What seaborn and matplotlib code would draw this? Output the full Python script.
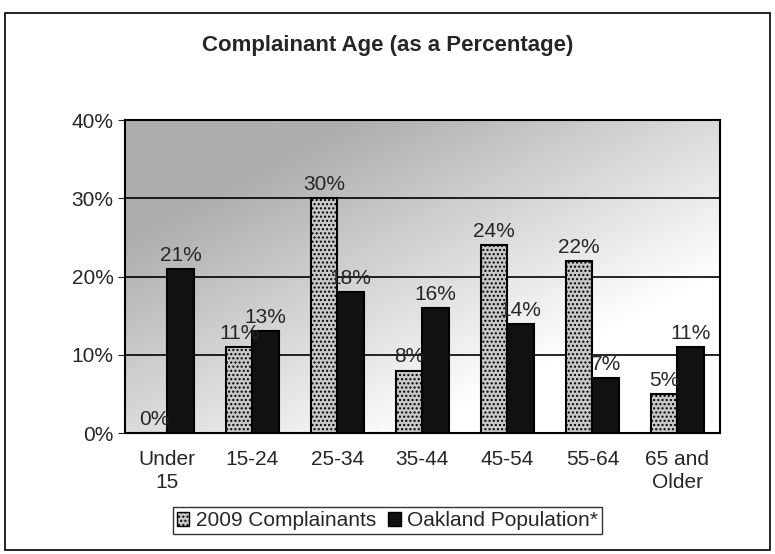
import numpy as np
import pandas as pd
import seaborn as sns
import matplotlib.pyplot as plt
from matplotlib.patches import Rectangle, Patch

# data
age_groups = ["Under\n15", "15-24", "25-34", "35-44", "45-54", "55-64", "65 and\nOlder"]
complainants = [0, 11, 30, 8, 24, 22, 5]
oakland = [21, 13, 18, 16, 14, 7, 11]
series = ["2009 Complainants", "Oakland Population*"]

df = pd.DataFrame({
    "Age": age_groups * 2,
    "Pct": complainants + oakland,
    "Series": [series[0]] * len(age_groups) + [series[1]] * len(age_groups),
})

sns.set_style("white")
plt.rcParams["font.family"] = ["Liberation Sans", "DejaVu Sans"]

fig = plt.figure(figsize=(7.75, 5.54), dpi=100)
ax = fig.add_axes([0.161, 0.218, 0.768, 0.565])

# shaded back wall: darker top-left, fading to white bottom-right
yy, xx = np.mgrid[0:1:200j, 0:1:200j]   # yy = 0 at bottom (origin lower)
shade = 0.68 + 0.32 * np.clip(0.9 * (1 - yy) + 0.9 * xx - 0.35, 0, 1)
ax.imshow(shade, cmap="gray", vmin=0, vmax=1, aspect="auto", origin="lower",
          extent=[-0.5, len(age_groups) - 0.5, 0, 40], zorder=0)

sns.barplot(data=df, x="Age", y="Pct", hue="Series", order=age_groups,
            palette={series[0]: "#c8c8c8", series[1]: "#111111"},
            width=0.62, gap=0.0, dodge=True, edgecolor="black", linewidth=1.5,
            legend=False, ax=ax, zorder=3)
ax.set_xlim(-0.5, len(age_groups) - 0.5)
ax.set_ylim(0, 40)

for c, container in enumerate(ax.containers):
    vals = complainants if c == 0 else oakland
    if c == 0:
        for bar in container:
            bar.set_hatch("....")
    ax.bar_label(container, labels=[f"{v}%" for v in vals], padding=3,
                 fontsize=15, zorder=4)

ax.set_yticks([0, 10, 20, 30, 40])
ax.set_yticklabels(["0%", "10%", "20%", "30%", "40%"], fontsize=15)
ax.tick_params(axis="x", labelsize=15, length=0, pad=12)
ax.tick_params(axis="y", length=5, left=True, direction="out", pad=3)
for lbl in ax.get_xticklabels():
    lbl.set_linespacing(1.3)
for y in [10, 20, 30]:
    ax.axhline(y, color="black", linewidth=1.2, zorder=1)
ax.set_xlabel("")
ax.set_ylabel("")
for side in ["top", "right", "left", "bottom"]:
    ax.spines[side].set_color("black")
    ax.spines[side].set_linewidth(1.5)

fig.text(0.5, 0.917, "Complainant Age (as a Percentage)", ha="center",
         va="center", fontsize=16, fontweight="bold")

handles = [Patch(facecolor="#c8c8c8", edgecolor="black", hatch="...."),
           Patch(facecolor="#111111", edgecolor="black")]
leg = fig.legend(handles, series, loc="center", bbox_to_anchor=(0.5, 0.06),
                 ncol=2, frameon=True, fontsize=15, handlelength=0.6,
                 handleheight=0.6, handletextpad=0.3, columnspacing=0.6,
                 borderpad=0.2, fancybox=False, edgecolor="black")
leg.get_frame().set_linewidth(1.0)

# outer chart frame
fig.patches.append(Rectangle((0.007, 0.007), 0.986, 0.97, transform=fig.transFigure,
                             fill=False, edgecolor="black", linewidth=1.2))

fig.savefig("out.png", dpi=100)
